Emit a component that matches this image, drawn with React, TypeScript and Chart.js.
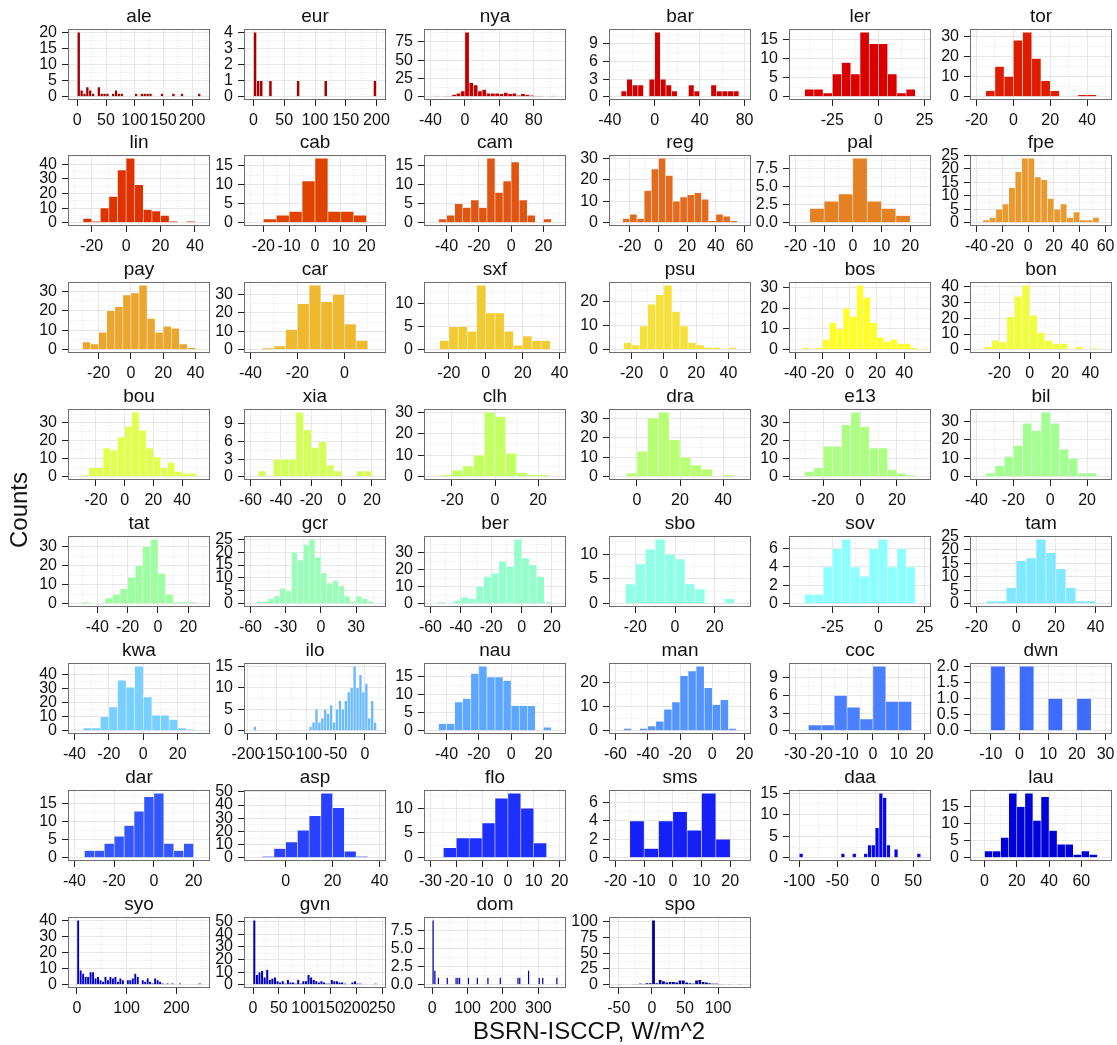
import React, { useEffect, useRef } from "react";
import { Chart, registerables } from "chart.js";

Chart.register(...registerables);

const FONT = "'Liberation Sans', Arial, Helvetica, sans-serif";
Chart.defaults.font.family = FONT;

// ---------- data ----------
const BIN_WIDTH = 5;

const STATIONS = [
  "ale", "eur", "nya", "bar", "ler", "tor",
  "lin", "cab", "cam", "reg", "pal", "fpe",
  "pay", "car", "sxf", "psu", "bos", "bon",
  "bou", "xia", "clh", "dra", "e13", "bil",
  "tat", "gcr", "ber", "sbo", "sov", "tam",
  "kwa", "ilo", "nau", "man", "coc", "dwn",
  "dar", "asp", "flo", "sms", "daa", "lau",
  "syo", "gvn", "dom", "spo",
];

const COLORS = [
  "#A00000", "#A80000", "#BF0000", "#CE0000", "#DB0000", "#DD1C00",
  "#DF3200", "#E04300", "#E15512", "#E36B1E", "#E48125", "#E9992E",
  "#EBA62E", "#EEB92F", "#F1CB32", "#F5E13A", "#FFFF26", "#F0FF3C",
  "#E2FF4C", "#D4FF58", "#C4FF64", "#B8FF74", "#ADFF84", "#A4FF92",
  "#9CFFA0", "#98FFB8", "#93FFCC", "#90FFE6", "#8CFFFF", "#80E8FF",
  "#77D0FF", "#6ABAFF", "#5EA7FF", "#5494FF", "#4A80FF", "#3E6CFF",
  "#3456FF", "#2A42FF", "#1E30FF", "#1420F5", "#0808E8", "#0000DA",
  "#0000C8", "#0000B6", "#0000A6", "#000096",
];

// left edge of the first bin of each histogram (bins are 5 W/m^2 wide)
const BIN_STARTS = [
  -5, -5, -40, -35, -45, -20,
  -30, -25, -50, -30, -20, -40,
  -35, -40, -30, -30, -40, -35,
  -35, -60, -30, -10, -35, -40,
  -55, -60, -60, -30, -45, -20,
  -40, -195, -50, -60, -30, -15,
  -40, -15, -30, -20, -105, -5,
  -5, -5, -5, -55,
];

const aleCounts = [0,20,2,1,3,2,1,0,3,1,1,1,0,1,2,1,1,0,0,0,0,1,0,1,1,1,1,0,0,0,1,0,0,0,1,0,0,1,0,0,0,0,0,1,0];
const eurCounts = [0,4,1,1,0,0,1,0,0,0,0,0,0,0,0,1,0,0,0,0,0,0,0,0,1,0,0,0,0,0,0,0,0,0,0,0,0,0,0,0,1,0];
const nyaCounts = [0,1,0,1,1,3,5,8,88,19,16,8,10,5,5,5,4,6,4,5,2,4,3,2,1,1,0,0,1,0];
const barCounts = [0,1,3,2,2,0,3,11,3,2,1,0,0,2,1,0,0,2,1,1,1,1,0];
const lerCounts = [0,2,2,1,6,9,6,17,14,14,6,1,2,0];
const torCounts = [0,3,15,10,28,32,19,8,3,0,0,1,1,0];
const linCounts = [0,3,1,10,18,36,44,26,9,8,5,1,0,1,0];
const cabCounts = [0,1,2,3,11,17,3,3,2,0];
const camCounts = [0,1,2,5,4,6,4,17,8,11,16,6,2,0,1,0];
const regCounts = [0,2,4,2,15,25,30,22,10,12,13,14,11,1,4,3,1,0];
const palCounts = [0,2,3,4,9,3,2,1,0];
const fpeCounts = [0,1,2,5,7,13,19,24,24,17,16,9,5,7,2,4,1,1,2,0];
const payCounts = [0,4,3,9,20,22,28,29,33,16,9,12,11,3,1,0];
const carCounts = [0,1,2,11,25,35,26,30,14,5,0];
const sxfCounts = [0,2,5,5,4,14,8,8,4,1,3,2,2,0];
const psuCounts = [0,3,2,10,19,23,27,16,10,3,2,1,1,0,1,0];
const bosCounts = [0,1,0,1,5,13,10,20,16,31,25,13,6,4,5,3,3,1,0];
const bonCounts = [0,2,6,5,21,34,41,22,11,6,4,4,0,2,0,1,0];
const bouCounts = [0,1,5,5,16,15,22,28,36,26,16,11,5,8,3,2,2,0];
const xiaCounts = [0,1,0,3,3,3,11,8,5,6,2,1,0,0,1,1,0];
const clhCounts = [0,1,3,5,10,30,28,11,2,1,1,0];
const draCounts = [0,2,13,30,33,19,10,6,4,0,1,0];
const e13Counts = [0,3,5,17,17,29,36,28,16,16,4,2,1,0];
const bilCounts = [0,2,6,11,17,29,25,35,29,15,10,2,2,0];
const tatCounts = [0,1,0,0,3,5,8,14,20,30,34,16,5,1,1,1,0];
const gcrCounts = [0,1,1,2,3,6,5,20,17,23,25,18,12,8,9,7,3,1,3,2,1,0];
const berCounts = [0,1,0,2,4,3,10,16,18,25,22,38,27,23,16,1,0];
const sboCounts = [0,4,8,11,13,10,9,4,3,0,0,1,0];
const sovCounts = [0,1,1,4,6,7,4,3,6,7,4,6,4,0];
const tamCounts = [0,1,1,6,16,17,24,19,13,6,1,1,0];
const kwaCounts = [0,2,2,10,17,36,31,46,24,11,11,8,2,1,0];
const iloCounts = [0,1,0,0,0,0,0,0,0,0,0,0,0,0,0,0,0,0,0,0,1,2,5,2,3,5,4,6,2,5,7,5,7,9,10,15,10,13,9,11,3,7,2,0];
const nauCounts = [0,2,2,8,9,16,18,15,15,14,7,7,7,0,1,0];
const manCounts = [0,1,0,1,2,4,9,12,23,25,27,18,11,13,1,0];
const cocCounts = [0,1,1,6,4,2,11,5,5,0];
const dwnCounts = [0,2,0,2,0,1,0,1,0];
const darCounts = [0,2,2,4,6,9,13,17,18,4,2,4,0];
const aspCounts = [0,1,7,12,21,32,49,38,5,1,0];
const floCounts = [0,2,4,4,7,12,13,10,3,0];
const smsCounts = [0,4,1,4,5,3,7,2,0];
const daaCounts = [0,1,0,0,0,0,0,0,0,0,0,0,1,0,0,1,0,0,1,3,3,7,15,14,3,0,2,0,0,0,0,0,1,0];
const lauCounts = [0,2,2,6,19,15,19,11,18,8,4,4,1,2,1,0];
const syoCounts = [0,40,9,7,5,5,8,8,4,5,3,2,5,3,5,4,5,2,4,3,0,3,3,4,7,5,0,3,2,4,2,1,4,3,2,1,0,1,0,1,0,0,1,0,0,0,0,0,0,0,1,0];
const gvnCounts = [0,51,8,10,11,6,12,4,5,6,3,2,3,1,4,2,2,1,4,1,3,3,8,6,4,3,2,3,2,1,1,4,3,3,2,2,1,0,0,2,3,1,1,0,0,0,0,0,1,0];
const domCounts = [0,9,2,0,1,0,0,0,0,1,0,0,0,0,1,1,1,0,0,0,0,1,0,0,0,0,1,0,0,0,0,0,1,0,0,0,0,0,0,1,0,0,0,0,0,0,0,0,0,1,1,0,0,0,0,2,0,0,0,0,0,1,0,1,0,0,0,0,0,0,0,1,0];
const spoCounts = [0,1,0,0,0,1,1,2,1,3,3,102,3,8,6,4,5,5,4,7,7,4,3,2,7,8,5,4,3,2,2,1,1,0,1,0,0,1,0];

const COUNTS = [
  aleCounts, eurCounts, nyaCounts, barCounts, lerCounts, torCounts,
  linCounts, cabCounts, camCounts, regCounts, palCounts, fpeCounts,
  payCounts, carCounts, sxfCounts, psuCounts, bosCounts, bonCounts,
  bouCounts, xiaCounts, clhCounts, draCounts, e13Counts, bilCounts,
  tatCounts, gcrCounts, berCounts, sboCounts, sovCounts, tamCounts,
  kwaCounts, iloCounts, nauCounts, manCounts, cocCounts, dwnCounts,
  darCounts, aspCounts, floCounts, smsCounts, daaCounts, lauCounts,
  syoCounts, gvnCounts, domCounts, spoCounts,
];

const X_TICKS = [
  [0, 50, 100, 150, 200], [0, 50, 100, 150, 200], [-40, 0, 40, 80], [-40, 0, 40, 80], [-25, 0, 25], [-20, 0, 20, 40],
  [-20, 0, 20, 40], [-20, -10, 0, 10, 20], [-40, -20, 0, 20], [-20, 0, 20, 40, 60], [-20, -10, 0, 10, 20], [-40, -20, 0, 20, 40, 60],
  [-20, 0, 20, 40], [-40, -20, 0], [-20, 0, 20, 40], [-20, 0, 20, 40], [-40, -20, 0, 20, 40], [-20, 0, 20, 40],
  [-20, 0, 20, 40], [-60, -40, -20, 0, 20], [-20, 0, 20], [0, 20, 40], [-20, 0, 20], [-40, -20, 0, 20],
  [-40, -20, 0, 20], [-60, -30, 0, 30], [-60, -40, -20, 0, 20], [-20, 0, 20], [-25, 0, 25], [-20, 0, 20, 40],
  [-40, -20, 0, 20], [-200, -150, -100, -50, 0], [-40, -20, 0, 20], [-60, -40, -20, 0, 20], [-30, -20, -10, 0, 10, 20], [-10, 0, 10, 20, 30],
  [-40, -20, 0, 20], [0, 20, 40], [-30, -20, -10, 0, 10, 20], [-20, -10, 0, 10, 20], [-100, -50, 0, 50], [0, 20, 40, 60],
  [0, 100, 200], [0, 50, 100, 150, 200, 250], [0, 100, 200, 300], [-50, 0, 50, 100],
];

const Y_TICKS = [
  [0, 5, 10, 15, 20], [0, 1, 2, 3, 4], [0, 25, 50, 75], [0, 3, 6, 9], [0, 5, 10, 15], [0, 10, 20, 30],
  [0, 10, 20, 30, 40], [0, 5, 10, 15], [0, 5, 10, 15], [0, 10, 20, 30], [0, 2.5, 5, 7.5], [0, 5, 10, 15, 20, 25],
  [0, 10, 20, 30], [0, 10, 20, 30], [0, 5, 10], [0, 10, 20], [0, 10, 20, 30], [0, 10, 20, 30, 40],
  [0, 10, 20, 30], [0, 3, 6, 9], [0, 10, 20, 30], [0, 10, 20, 30], [0, 10, 20, 30], [0, 10, 20, 30],
  [0, 10, 20, 30], [0, 5, 10, 15, 20, 25], [0, 10, 20, 30], [0, 5, 10], [0, 2, 4, 6], [0, 5, 10, 15, 20, 25],
  [0, 10, 20, 30, 40], [0, 5, 10, 15], [0, 5, 10, 15], [0, 10, 20], [0, 3, 6, 9], [0, 0.5, 1, 1.5, 2],
  [0, 5, 10, 15], [0, 10, 20, 30, 40, 50], [0, 5, 10], [0, 2, 4, 6], [0, 5, 10, 15], [0, 5, 10, 15],
  [0, 10, 20, 30, 40], [0, 10, 20, 30, 40, 50], [0, 2.5, 5, 7.5], [0, 25, 50, 75, 100],
];

const X_TITLE = "BSRN-ISCCP, W/m^2";
const Y_TITLE = "Counts";

// ---------- layout ----------
const COL_LEFT = [68, 244, 424, 609, 789, 970];
const ROW_TOP = [29, 155, 282, 409, 536, 663, 790, 917];
const PW = 142;
const PH = 71;
const Y_W = 50;
const X_H = 32;
const TITLE_H = 22;
const PAD_R = 18;

const MAJOR_GRID = "#E6E6E6";
const MINOR_GRID = "#F5F5F5";
const TICK_COLOR = "#222222";
const TEXT_COLOR = "#111111";
const BAR_EDGE = "rgba(255,255,255,0.28)";
const CLEAR = "rgba(0,0,0,0)";

function makeTicks(majors: number[], min: number, max: number) {
  const step = majors[1] - majors[0];
  const out: any[] = [];
  majors.forEach((m) => {
    if (m >= min && m <= max) out.push({ value: m });
  });
  const minors: number[] = [];
  for (let i = 0; i < majors.length - 1; i++) minors.push((majors[i] + majors[i + 1]) / 2);
  minors.push(majors[0] - step / 2, majors[majors.length - 1] + step / 2);
  minors.forEach((v) => {
    if (v >= min && v <= max) out.push({ value: v, minor: true });
  });
  out.sort((a, b) => a.value - b.value);
  return out;
}

const panelBorder = {
  id: "panelBorder",
  afterDatasetsDraw(chart: any) {
    const { ctx, chartArea: a } = chart;
    ctx.save();
    ctx.strokeStyle = "#6E6E6E";
    ctx.lineWidth = 1;
    const l = Math.round(a.left);
    const t = Math.round(a.top);
    const r = Math.round(a.right);
    const b = Math.round(a.bottom);
    ctx.strokeRect(l + 0.5, t + 0.5, r - l - 1, b - t - 1);
    ctx.restore();
  },
};

function Panel({ idx }: { idx: number }) {
  const ref = useRef<HTMLCanvasElement | null>(null);
  const col = idx % 6;
  const row = Math.floor(idx / 6);
  const left = COL_LEFT[col] - Y_W;
  const top = ROW_TOP[row] - TITLE_H;
  const width = Y_W + PW + PAD_R;
  const height = TITLE_H + PH + X_H;

  useEffect(() => {
    if (!ref.current) return;
    const start = BIN_STARTS[idx];
    const counts = COUNTS[idx];
    const end = start + counts.length * BIN_WIDTH;
    const xPad = (end - start) * 0.05;
    const maxC = Math.max(...counts);
    const color = COLORS[idx];
    const data = counts.map((c, i) => ({ x: start + (i + 0.5) * BIN_WIDTH, y: c }));
    const yTicks = Y_TICKS[idx];
    const decimals = yTicks.some((v) => !Number.isInteger(v));

    const gridOpts = {
      offset: false,
      lineWidth: 1,
      tickLength: 6,
      tickWidth: 1,
      color: (c: any) => (c.tick && c.tick.minor ? MINOR_GRID : MAJOR_GRID),
      tickColor: (c: any) => (c.tick && c.tick.minor ? CLEAR : TICK_COLOR),
    };

    const chart = new Chart(ref.current, {
      type: "bar",
      data: {
        datasets: [
          {
            data: data as any,
            backgroundColor: (c: any) => (c.raw && c.raw.y > 0 ? color : CLEAR),
            borderColor: (c: any) => (c.raw && c.raw.y > 0 ? BAR_EDGE : CLEAR),
            borderWidth: 0.6,
            borderSkipped: "start",
            barPercentage: 1,
            categoryPercentage: 1,
          } as any,
        ],
      },
      options: {
        animation: false,
        responsive: false,
        maintainAspectRatio: false,
        devicePixelRatio: 1,
        events: [],
        layout: { padding: { left: 0, top: 0, right: PAD_R, bottom: 0 } },
        plugins: {
          legend: { display: false },
          tooltip: { enabled: false },
          title: {
            display: true,
            text: STATIONS[idx],
            fullSize: false,
            color: TEXT_COLOR,
            font: { size: 19, weight: "normal", lineHeight: "20px" } as any,
            padding: { top: 0, bottom: 2 },
          },
        },
        scales: {
          x: {
            type: "linear",
            min: start - xPad,
            max: end + xPad,
            offset: false,
            bounds: "data",
            afterBuildTicks: (s: any) => {
              s.ticks = makeTicks(X_TICKS[idx], s.min, s.max);
            },
            afterFit: (s: any) => {
              s.height = X_H;
            },
            grid: gridOpts as any,
            border: { display: false },
            ticks: {
              autoSkip: false,
              maxRotation: 0,
              minRotation: 0,
              padding: 5,
              color: TEXT_COLOR,
              font: { size: 16 },
              callback: (v: any, i: number, t: any[]) => (t[i] && t[i].minor ? "" : String(v)),
            },
          } as any,
          y: {
            type: "linear",
            min: -0.05 * maxC,
            max: 1.05 * maxC,
            bounds: "data",
            afterBuildTicks: (s: any) => {
              s.ticks = makeTicks(yTicks, s.min, s.max);
            },
            afterFit: (s: any) => {
              s.width = Y_W;
            },
            grid: gridOpts as any,
            border: { display: false },
            ticks: {
              autoSkip: false,
              padding: 5,
              color: TEXT_COLOR,
              font: { size: 16 },
              callback: (v: any, i: number, t: any[]) =>
                t[i] && t[i].minor ? "" : decimals ? Number(v).toFixed(1) : String(v),
            },
          } as any,
        },
      },
      plugins: [panelBorder],
    });
    return () => chart.destroy();
  }, [idx]);

  return (
    <canvas
      ref={ref}
      width={width}
      height={height}
      style={{ position: "absolute", left, top, width, height }}
    />
  );
}

export default function App() {
  return (
    <div
      style={{
        position: "absolute",
        left: 0,
        top: 0,
        width: 1117,
        height: 1045,
        background: "#ffffff",
        overflow: "hidden",
        fontFamily: FONT,
        color: TEXT_COLOR,
      }}
    >
      {STATIONS.map((s, i) => (
        <Panel key={s} idx={i} />
      ))}
      <div
        style={{
          position: "absolute",
          left: 289,
          top: 1016,
          width: 600,
          height: 30,
          lineHeight: "30px",
          fontSize: 24,
          textAlign: "center",
          whiteSpace: "nowrap",
        }}
      >
        {X_TITLE}
      </div>
      <div
        style={{
          position: "absolute",
          left: 19 - 100,
          top: 510 - 15,
          width: 200,
          height: 30,
          lineHeight: "30px",
          fontSize: 24,
          textAlign: "center",
          whiteSpace: "nowrap",
          transform: "rotate(-90deg)",
        }}
      >
        {Y_TITLE}
      </div>
    </div>
  );
}
